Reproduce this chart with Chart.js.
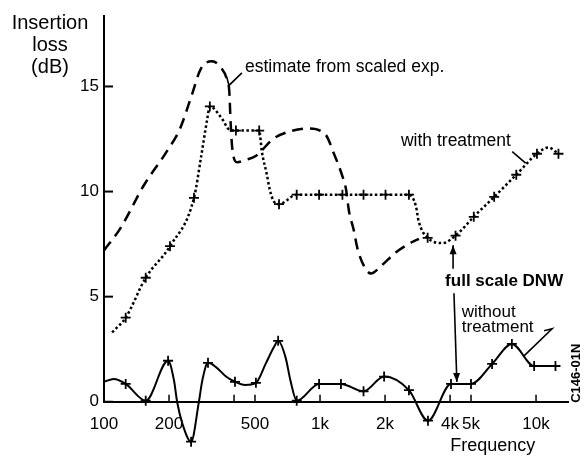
<!DOCTYPE html>
<html>
<head>
<meta charset="utf-8">
<script src="https://cdn.jsdelivr.net/npm/chart.js@4.4.1/dist/chart.umd.min.js"></script>
<style>
  html, body { margin: 0; padding: 0; background: #fff; }
  canvas { display: block; }
</style>
</head>
<body>
<canvas id="lossChart" width="587" height="459"></canvas>
<script>
// Insertion loss (dB) against frequency (Hz), log axis

// estimate from scaled experiment (dashed)
const estimateFreq = [100, 119, 153, 195, 225, 255, 281, 316, 348, 372, 380, 386, 393, 413, 450, 506, 606, 718, 880, 1062, 1160, 1263, 1320, 1360, 1430, 1490, 1590, 1720, 1935, 2240, 2670, 2870];
const estimateLoss = [7.2, 8.25, 10.3, 11.9, 13.0, 14.6, 15.85, 16.2, 15.9, 15.3, 14.8, 13.2, 12.0, 11.4, 11.5, 11.7, 12.5, 12.85, 13.0, 12.7, 11.8, 10.8, 10.1, 9.1, 8.2, 7.3, 6.5, 6.1, 6.5, 7.1, 7.6, 7.75];

// full scale, with treatment (dotted)
const treatedFreq = [109, 126, 156, 202, 261, 281, 300, 309, 350, 380, 408, 460, 523, 538, 565, 590, 620, 646, 780, 990, 1270, 1590, 2010, 2580, 2780, 2860, 3150, 3700, 4240, 5150, 6400, 8100, 10100, 11400, 12700];
const treatedLoss = [3.3, 4.0, 5.9, 7.4, 9.7, 11.6, 13.4, 14.05, 13.5, 12.95, 12.9, 12.9, 12.9, 11.9, 10.9, 9.95, 9.45, 9.4, 9.85, 9.85, 9.85, 9.85, 9.85, 9.85, 9.3, 8.6, 7.8, 7.55, 7.9, 8.8, 9.75, 10.8, 11.8, 12.1, 11.8];
const treatedMarks = [126, 156, 202, 261, 309, 408, 523, 646, 780, 990, 1270, 1590, 2010, 2580, 3150, 4240, 5150, 6400, 8100, 10100, 12700];

// full scale, without treatment (solid)
const untreatedFreq = [100, 111, 126, 156, 198, 211, 218, 230, 253, 275, 285, 303, 330, 367, 404, 450, 505, 560, 612, 640, 693, 730, 780, 990, 1250, 1590, 1980, 2580, 3160, 4040, 5000, 6260, 7730, 9800, 12300];
const untreatedLoss = [0.95, 1.08, 0.85, 0.05, 1.95, 1.0, 0, -1.0, -1.9, 0, 1.0, 1.85, 1.65, 1.2, 0.95, 0.8, 0.9, 1.8, 2.6, 2.9, 2.1, 1.0, 0.05, 0.85, 0.85, 0.5, 1.2, 0.55, -0.9, 0.85, 0.85, 1.8, 2.75, 1.7, 1.7];
const untreatedMarks = [126, 156, 198, 253, 303, 404, 505, 640, 780, 990, 1250, 1590, 1980, 2580, 3160, 4040, 5000, 6260, 7730, 9800, 12300];

const xTickValues = [100, 200, 500, 1000, 2000, 4000, 5000, 10000];
const xTickLabels = ['100', '200', '500', '1k', '2k', '4k', '5k', '10k'];
const xTickMarks = [200, 400, 500, 1000, 2000, 4000, 5000, 10000];
const yTickValues = [0, 5, 10, 15];

const FONT = '"Liberation Sans", Arial, Helvetica, sans-serif';
Chart.defaults.color = '#000';
Chart.defaults.font.family = FONT;

function toPoints(freq, loss) {
    return freq.map((f, i) => ({ x: f, y: loss[i] }));
}

function markRadius(freq, marks) {
    return freq.map(f => marks.includes(f) ? 5 : 0);
}

function arrow(ctx, x1, y1, x2, y2) {
    ctx.beginPath();
    ctx.moveTo(x1, y1);
    ctx.lineTo(x2, y2);
    ctx.stroke();
    const a = Math.atan2(y2 - y1, x2 - x1);
    const len = 9, half = 3.5;
    ctx.beginPath();
    ctx.moveTo(x2, y2);
    ctx.lineTo(x2 - len * Math.cos(a) + half * Math.sin(a), y2 - len * Math.sin(a) - half * Math.cos(a));
    ctx.lineTo(x2 - len * Math.cos(a) - half * Math.sin(a), y2 - len * Math.sin(a) + half * Math.cos(a));
    ctx.closePath();
    ctx.fill();
}

function polyline(ctx, pts) {
    ctx.beginPath();
    pts.forEach((p, i) => i ? ctx.lineTo(p[0], p[1]) : ctx.moveTo(p[0], p[1]));
    ctx.stroke();
}

// axis line, inward ticks and the labels on the plot
const figureExtras = {
    id: 'figureExtras',
    afterDraw(chart) {
        const { ctx, chartArea, scales: { x, y } } = chart;
        const px = f => x.getPixelForValue(f);
        const py = v => y.getPixelForValue(v);
        const left = chartArea.left;
        const zero = py(0);

        ctx.save();
        ctx.strokeStyle = '#000';
        ctx.fillStyle = '#000';
        ctx.lineWidth = 2;

        // y axis only runs from 0 upwards
        ctx.beginPath();
        ctx.moveTo(left, zero + 1);
        ctx.lineTo(left, chartArea.top);
        ctx.stroke();

        yTickValues.forEach(v => {
            ctx.beginPath();
            ctx.moveTo(left, py(v));
            ctx.lineTo(left + 9, py(v));
            ctx.stroke();
        });
        ctx.lineWidth = 1.5;
        xTickMarks.forEach(f => {
            ctx.beginPath();
            ctx.moveTo(px(f), zero);
            ctx.lineTo(px(f), zero - 7);
            ctx.stroke();
        });

        // axis titles
        ctx.textBaseline = 'middle';
        ctx.textAlign = 'center';
        ctx.font = '20px ' + FONT;
        ['Insertion', 'loss', '(dB)'].forEach((t, i) => {
            ctx.fillText(t, left - 54, chartArea.top + 8 + i * 22);
        });
        ctx.font = '18px ' + FONT;
        ctx.fillText('Frequency', px(6300), py(-2.1));

        // curve labels
        ctx.textAlign = 'left';
        ctx.font = '17.5px ' + FONT;
        ctx.fillText('estimate from scaled exp.', px(449), py(15.94));
        ctx.fillText('with treatment', px(2370), py(12.42));
        ctx.font = '17px ' + FONT;
        ctx.fillText('without', px(4530), py(4.27));
        ctx.fillText('treatment', px(4530), py(3.52));
        ctx.font = 'bold 17px ' + FONT;
        ctx.fillText('full scale DNW', px(3794), py(5.72));

        // leaders
        ctx.lineWidth = 1.6;
        polyline(ctx, [[px(371), py(15.4)], [px(379), py(15.05)], [px(435), py(15.65)]]);
        polyline(ctx, [[px(7760), py(11.9)], [px(8950), py(11.35)]]);
        polyline(ctx, [[px(10900), py(3.38)], [px(11870), py(3.47)], [px(8750), py(2.16)]]);
        arrow(ctx, px(4130), py(6.33), px(4130), py(7.45));
        arrow(ctx, px(4170), py(5.16), px(4300), py(0.94));

        // figure id, vertical
        ctx.save();
        ctx.translate(chartArea.right + 8, py(1.36));
        ctx.rotate(-Math.PI / 2);
        ctx.textAlign = 'center';
        ctx.font = 'bold 13px ' + FONT;
        ctx.fillText('C146-01N', 0, 0);
        ctx.restore();

        ctx.restore();
    }
};

new Chart(document.getElementById('lossChart'), {
    type: 'line',
    data: {
        datasets: [
            {
                label: 'estimate from scaled exp.',
                data: toPoints(estimateFreq, estimateLoss),
                borderColor: '#000',
                borderWidth: 2.5,
                borderDash: [11, 7],
                pointRadius: 0,
                cubicInterpolationMode: 'monotone'
            },
            {
                label: 'with treatment',
                data: toPoints(treatedFreq, treatedLoss),
                borderColor: '#000',
                borderWidth: 2.5,
                borderDash: [2.5, 2.5],
                borderCapStyle: 'butt',
                pointStyle: 'cross',
                pointRadius: markRadius(treatedFreq, treatedMarks),
                pointBorderWidth: 1.8,
                pointBorderColor: '#000',
                cubicInterpolationMode: 'monotone'
            },
            {
                label: 'without treatment',
                data: toPoints(untreatedFreq, untreatedLoss),
                borderColor: '#000',
                borderWidth: 2,
                pointStyle: 'cross',
                pointRadius: markRadius(untreatedFreq, untreatedMarks),
                pointBorderWidth: 1.8,
                pointBorderColor: '#000',
                cubicInterpolationMode: 'monotone'
            }
        ]
    },
    options: {
        responsive: false,
        devicePixelRatio: 1,
        animation: false,
        events: [],
        layout: { padding: { top: 15, right: 19, bottom: 0, left: 0 } },
        plugins: {
            legend: { display: false },
            tooltip: { enabled: false }
        },
        scales: {
            x: {
                type: 'logarithmic',
                min: 100,
                max: 14060,
                position: { y: 0 },
                grid: { display: false, drawTicks: false },
                border: { display: true, color: '#000', width: 2 },
                afterBuildTicks: axis => {
                    axis.ticks = xTickValues.map(v => ({ value: v }));
                },
                afterFit: axis => {
                    axis.paddingLeft = 0;
                    axis.paddingRight = 0;
                },
                ticks: {
                    autoSkip: false,
                    maxRotation: 0,
                    padding: 12,
                    font: { size: 17 },
                    callback: (value, index) => xTickLabels[index]
                }
            },
            y: {
                type: 'linear',
                min: -2.4,
                max: 18.4,
                grid: { display: false, drawTicks: false },
                border: { display: false },
                afterBuildTicks: axis => {
                    axis.ticks = yTickValues.map(v => ({ value: v }));
                },
                afterFit: axis => {
                    axis.width = 104;
                    axis.paddingTop = 0;
                    axis.paddingBottom = 0;
                },
                ticks: {
                    padding: 5,
                    font: { size: 17 }
                }
            }
        }
    },
    plugins: [figureExtras]
});
</script>
</body>
</html>
